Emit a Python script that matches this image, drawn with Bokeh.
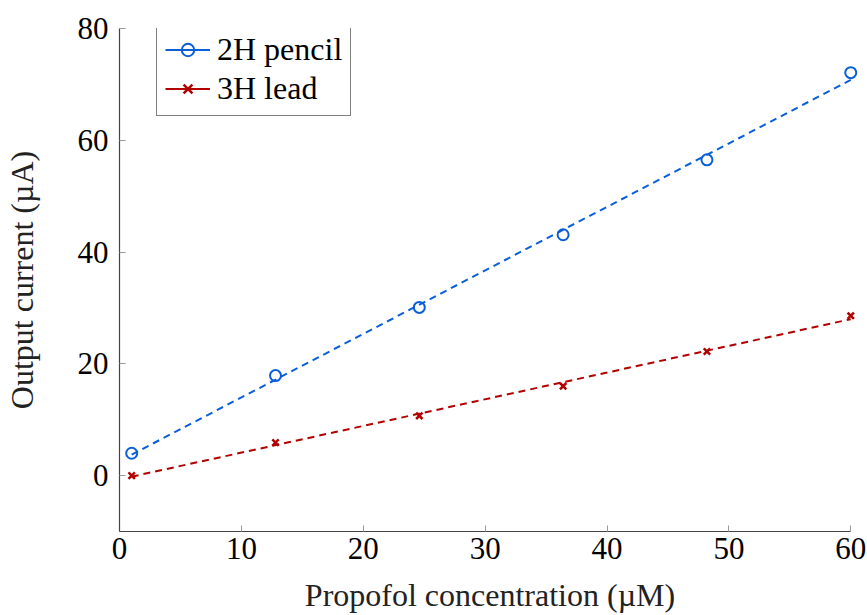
import numpy as np
from bokeh.plotting import figure
from bokeh.models import Legend, LegendItem, Range1d, FixedTicker
from bokeh.embed import file_html
from bokeh.resources import INLINE

# Data
conc = [1.0, 12.8, 24.6, 36.4, 48.2, 60.0]
pencil_2h = [4.0, 17.9, 30.1, 43.1, 56.5, 72.1]
lead_3h = [0.0, 5.9, 10.7, 16.0, 22.2, 28.6]
x_ticks = [0, 10, 20, 30, 40, 50, 60]
y_ticks = [0, 20, 40, 60, 80]

BLUE = "#0a5fd8"
RED = "#b20000"
FONT = "Liberation Serif"
FS = "31px"
FS_LABEL = "32px"

p = figure(width=867, height=615, output_backend="svg", toolbar_location=None,
           x_range=Range1d(0, 60.8), y_range=Range1d(-10, 80),
           min_border_left=118, min_border_right=7, min_border_top=28, min_border_bottom=82)
p.outline_line_color = None
p.xgrid.visible = False
p.ygrid.visible = False

def fit(xs, ys):
    a, b = np.polyfit(xs, ys, 1)
    xx = np.array([xs[0], xs[-1]])
    return xx, a * xx + b

fx, fy = fit(conc, pencil_2h)
p.line(fx, fy, line_color=BLUE, line_width=2, line_dash="7 5")
fx2, fy2 = fit(conc, lead_3h)
p.line(fx2, fy2, line_color=RED, line_width=2, line_dash="7 5")

s1 = p.scatter(conc, pencil_2h, marker="circle", size=11, fill_color=None,
               line_color=BLUE, line_width=2)
s2 = p.scatter(conc, lead_3h, marker="x", size=9, line_color=RED, line_width=2.5)

# solid lines used only for the legend (drawn outside the visible range)
d1 = p.line(x=[-50, -40], y=[-50, -50], line_color=BLUE, line_width=2)
d2 = p.line(x=[-50, -40], y=[-50, -50], line_color=RED, line_width=2)

legend = Legend(items=[LegendItem(label="2H pencil", renderers=[d1, s1]),
                       LegendItem(label="3H lead", renderers=[d2, s2])],
                location=(37, 415))
legend.label_text_font = FONT
legend.label_text_font_size = FS_LABEL
legend.label_text_color = "black"
legend.glyph_width = 45
legend.glyph_height = 31
legend.label_height = 31
legend.spacing = 2
legend.padding = 8
legend.label_standoff = 7
legend.border_line_color = "black"
legend.border_line_width = 1
legend.background_fill_alpha = 1
p.add_layout(legend)

for ax in (p.xaxis[0], p.yaxis[0]):
    ax.major_label_text_font = FONT
    ax.major_label_text_font_size = FS
    ax.major_label_text_color = "black"
    ax.axis_label_text_font = FONT
    ax.axis_label_text_font_size = FS_LABEL
    ax.axis_label_text_font_style = "normal"
    ax.axis_label_text_color = "#222222"
    ax.axis_line_color = "#444444"
    ax.axis_line_width = 1.2
    ax.major_tick_in = 6
    ax.major_tick_out = 0
    ax.major_tick_line_color = "#999999"
    ax.minor_tick_line_color = None

p.xaxis[0].bounds = (0, 60)
p.yaxis[0].bounds = (-10, 80)
p.xaxis[0].ticker = FixedTicker(ticks=x_ticks)
p.yaxis[0].ticker = FixedTicker(ticks=y_ticks)
p.xaxis[0].axis_label = "Propofol concentration (µM)"
p.yaxis[0].axis_label = "Output current (µA)"
p.xaxis[0].major_label_standoff = 6
p.yaxis[0].major_label_standoff = 11
p.xaxis[0].axis_label_standoff = 15
p.yaxis[0].axis_label_standoff = 35

open("out.html", "w").write(file_html(p, INLINE))
